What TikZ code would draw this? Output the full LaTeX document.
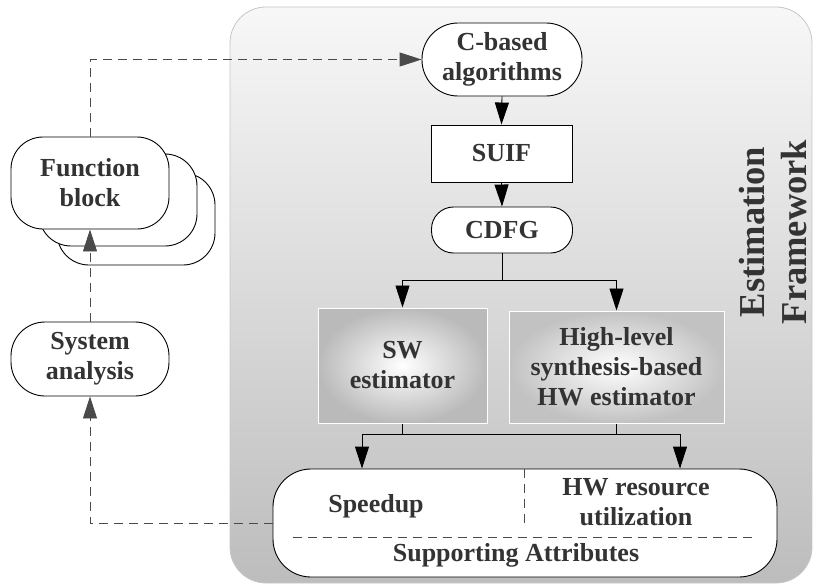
\documentclass[tikz,border=0pt]{standalone}
\usepackage{fontspec}
\setmainfont{Liberation Serif}
\usetikzlibrary{arrows.meta,calc}
\definecolor{ink}{HTML}{333333}
\definecolor{dashink}{HTML}{4a4a4a}
\newcommand{\lblfont}{\bfseries\fontsize{26}{30}\selectfont}
\newcommand{\titlefont}{\bfseries\fontsize{36.5}{42}\selectfont}
\begin{document}
\begin{tikzpicture}[x=1pt,y=-1pt,
  every node/.style={text=ink, font=\lblfont, align=center, inner sep=0pt},
  block/.style={draw=black, fill=white, line width=0.9pt},
  roundbox/.style={block, rounded corners=#1},
  estbox/.style={draw=white, line width=1pt, inner color=white, outer color=#1},
  panel/.style={draw=gray!45, line width=0.8pt, rounded corners=36pt,
    top color=white!97!black, bottom color=black!26},
  arr/.style={-{Triangle[length=22pt,width=14pt]}, line width=0.9pt, black},
  dasharr/.style={arr, dashink, dash pattern=on 9pt off 6pt},
  divider/.style={dashink, line width=0.8pt, dash pattern=on 9pt off 6pt}]
\useasboundingbox (0,0) rectangle (813,586);

% gray frame of the estimation framework
\node[panel, minimum width=582pt, minimum height=576pt] (frame) at (521,295) {};
\node[font=\titlefont, rotate=90] (title) at (773,232) {Estimation\\Framework};

% flow inside the framework
\node[roundbox=36pt, minimum width=160pt, minimum height=73pt] (cba) at (502,59.5) {C-based\\algorithms};
\node[block, minimum width=141pt, minimum height=57pt] (suif) at (501.5,153.5) {SUIF};
\node[roundbox=22pt, minimum width=141pt, minimum height=46pt] (cdfg) at (502,230) {CDFG};
\node[estbox=black!27, minimum width=169pt, minimum height=115pt] (sw) at (402.5,365.5) {SW\\estimator};
\node[estbox=black!24, minimum width=215pt, minimum height=112pt] (hw) at (616.5,367) {High-level\\synthesis-based\\HW estimator};
\node[roundbox=38pt, minimum width=504pt, minimum height=108pt] (attr) at (525,523) {};

% contents of the attribute box
\draw[divider] ($(attr.west)+(20,14)$) -- ($(attr.east)+(-22,14)$);
\draw[divider] ($(attr.north)+(-1,0)$) -- ++(0,54);
\node (speed) at (376,506) {Speedup};
\node (res) at (636,502) {HW resource\\utilization};
\node (supp) at (516,555) {Supporting Attributes};

% stacked function blocks and system analysis
\node[roundbox=32pt, minimum width=158pt, minimum height=92pt] (fb3) at (136,219) {};
\node[roundbox=32pt, minimum width=158pt, minimum height=92pt] (fb2) at (118,200) {};
\node[roundbox=32pt, minimum width=158pt, minimum height=92pt] (fb1) at (90,183) {Function\\block};
\node[roundbox=34pt, minimum width=158pt, minimum height=74pt] (sys) at (90,359) {System\\analysis};

% connectors
\coordinate (inL) at ($(attr.north)+(-163,0)$);
\coordinate (inR) at ($(attr.north)+(155,0)$);

\draw[arr] (cba.south) -- (suif.north);
\draw[arr] (suif.south) -- (cdfg.north);
\draw[arr] (cdfg.south) -- ++(0,27) coordinate (split) -| (sw.north);
\draw[arr] (split) -| (hw.north);
\draw[arr] (sw.south) -- ++(0,11) coordinate (busL) -| (inL);
\draw[arr] (hw.south) -- ++(0,11) coordinate (busR) -| (inR);
\draw[line width=0.9pt] (busL) -- (busR);

\draw[dasharr] (attr.west) -| (sys.south);
\draw[dasharr] (sys.north) -- (fb1.south);
\draw[dasharr] (fb1.north) |- (cba.west);
\end{tikzpicture}
\end{document}
